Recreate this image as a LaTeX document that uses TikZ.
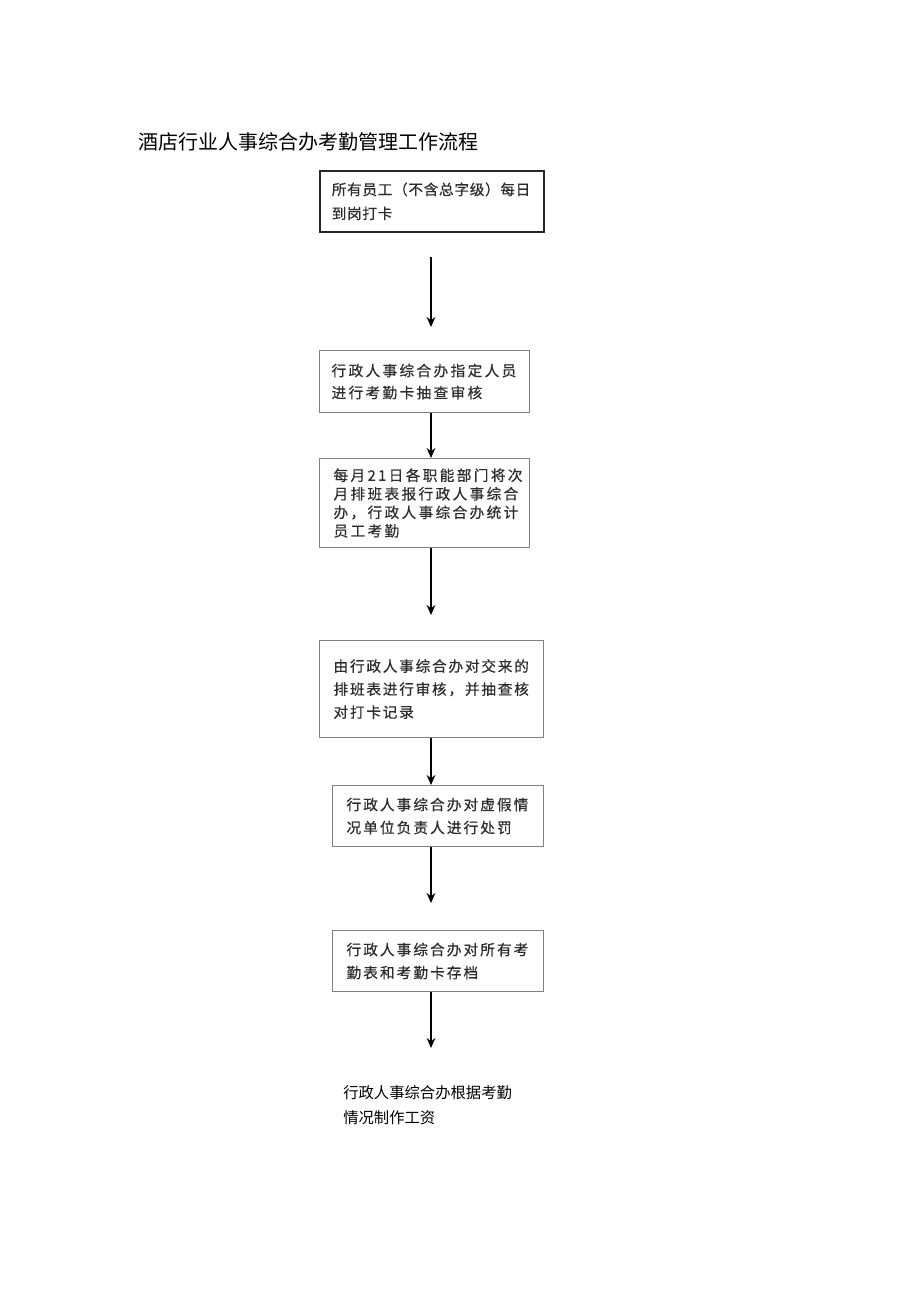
\documentclass[tikz,border=0pt]{standalone}
\usepackage{fontspec}
\usetikzlibrary{arrows.meta,positioning}
\newfontfamily\cjk{Noto Sans CJK SC}
\definecolor{boxline}{RGB}{128,128,128}
\definecolor{boxdark}{RGB}{40,40,40}
\definecolor{boxtext}{RGB}{45,45,45}
\newcommand\spaced[1]{\cjk\addfontfeatures{LetterSpace=#1, FakeBold=0.6}}

\begin{document}
\begin{tikzpicture}[
  x=0.75pt, y=-0.75pt,
  stepbox/.style={draw=boxline, line width=0.8pt, anchor=north west, align=left, inner ysep=0pt, inner xsep=10.5pt, text=boxtext, font=\fontsize{11}{17.25}\spaced{14}},
  arr/.style={-{Stealth[length=7.5pt,width=6.5pt]}, line width=1.1pt}
]
\useasboundingbox (0,0) rectangle (920,1301);
\coordinate (axis) at (431,0);
\node[anchor=west, inner sep=0pt, font=\fontsize{15}{18}\cjk] (title) at (138,142) {酒店行业人事综合办考勤管理工作流程};
\node[stepbox, draw=boxdark, line width=1.2pt, inner xsep=9pt, text width=150pt, minimum height=45.75pt, font=\fontsize{11}{18}\spaced{4.5}] (punch) at (319,170) {所有员工（不含总字级）每日\\到岗打卡};
\node[stepbox, inner xsep=9pt, text width=139.5pt, minimum height=46.5pt, font=\fontsize{11}{16.5}\spaced{16}] (check) at (319,350) {行政人事综合办指定人员\\进行考勤卡抽查审核};
\node[stepbox, text width=136.5pt, minimum height=66.75pt, font=\fontsize{11}{13.9}\spaced{16}] (stats) at (319,458) {每月\,21\,日各职能部门将次\\月排班表报行政人事综合\\办，行政人事综合办统计\\员工考勤};
\node[stepbox, text width=147pt, minimum height=72.75pt, font=\fontsize{11}{17.25}\spaced{12}] (review) at (319,640) {由行政人事综合办对交来的\\排班表进行审核，并抽查核\\对打卡记录};
\node[stepbox, text width=137.25pt, minimum height=45.75pt] (penalty) at (332,785) {行政人事综合办对虚假情\\况单位负责人进行处罚};
\node[stepbox, text width=137.25pt, minimum height=45.75pt] (archive) at (332,930) {行政人事综合办对所有考\\勤表和考勤卡存档};
\node[anchor=north west, align=left, inner sep=0pt, font=\fontsize{11.5}{18.75}\cjk] (salary) at (343,1085) {行政人事综合办根据考勤\\情况制作工资};
\draw[arr, shorten <=18pt, shorten >=17.25pt] (punch.south -| axis) -- (check.north -| axis);
\draw[arr] (check.south -| axis) -- (stats.north -| axis);
\draw[arr, shorten >=18.75pt] (stats.south -| axis) -- (review.north -| axis);
\draw[arr] (review.south -| axis) -- (penalty.north -| axis);
\draw[arr, shorten >=20.25pt] (penalty.south -| axis) -- (archive.north -| axis);
\draw[arr, shorten >=27.75pt] (archive.south -| axis) -- (salary.north -| axis);
\end{tikzpicture}
\end{document}
